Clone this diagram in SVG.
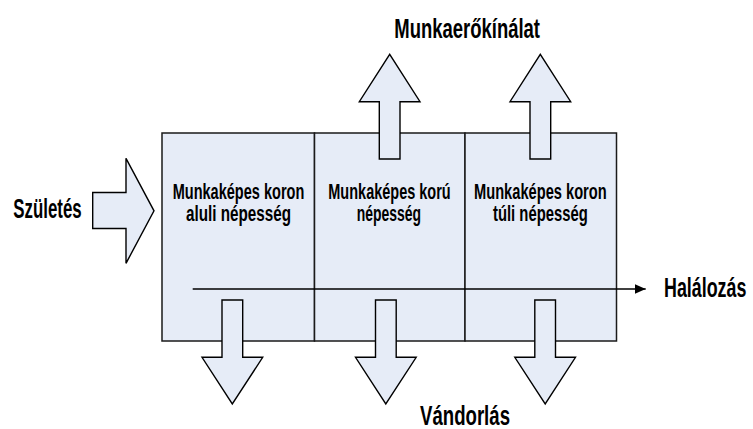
<svg xmlns="http://www.w3.org/2000/svg" width="753" height="429" viewBox="0 0 753 429">
  <style>
    .cell { fill: #E6ECF7; stroke: #1a1a1a; stroke-width: 1.5; }
    .flow { fill: #E6ECF7; stroke: #000; stroke-width: 1.4; stroke-linejoin: miter; }
    .lbl { font-family: "Liberation Sans", Arial, sans-serif; font-weight: bold; fill: #000; }
    .big { font-size: 27px; }
    .small { font-size: 22px; }
    .line { stroke: #000; stroke-width: 1.6; fill: none; }
  </style>
  <defs>
    <marker id="head" markerUnits="userSpaceOnUse" markerWidth="12" markerHeight="10" refX="10.7" refY="4.7" orient="auto">
      <polygon points="0,0 10.7,4.7 0,9.4" fill="#000"/>
    </marker>
  </defs>

  <!-- population cells -->
  <g id="cell-below">
    <rect class="cell" x="162" y="133" width="152.5" height="208"/>
    <text class="lbl small" x="172.7" y="199.3" textLength="131.6" lengthAdjust="spacingAndGlyphs">Munkaképes koron</text>
    <text class="lbl small" x="186" y="221.3" textLength="105" lengthAdjust="spacingAndGlyphs">aluli népesség</text>
  </g>
  <g id="cell-working">
    <rect class="cell" x="314.5" y="133" width="150.5" height="208"/>
    <text class="lbl small" x="328.3" y="199.3" textLength="122.4" lengthAdjust="spacingAndGlyphs">Munkaképes korú</text>
    <text class="lbl small" x="356.7" y="221.3" textLength="64.3" lengthAdjust="spacingAndGlyphs">népesség</text>
  </g>
  <g id="cell-above">
    <rect class="cell" x="465" y="133" width="151.5" height="208"/>
    <text class="lbl small" x="474" y="199.3" textLength="132.7" lengthAdjust="spacingAndGlyphs">Munkaképes koron</text>
    <text class="lbl small" x="493" y="221.3" textLength="94.7" lengthAdjust="spacingAndGlyphs">túli népesség</text>
  </g>

  <!-- flows -->
  <g id="connectors">
    <!-- births in -->
    <polygon class="flow" points="92.7,192.5 126,192.5 126,158.3 154,210.8 126,263.3 126,228.5 92.7,228.5"/>
    <!-- labour supply out -->
    <polygon class="flow" points="379.3,159 379.3,101.7 359.3,101.7 389.7,54.3 420,101.7 400,101.7 400,159"/>
    <polygon class="flow" points="530,159 530,101.7 510,101.7 540.3,54.3 570.7,101.7 550.7,101.7 550.7,159"/>
    <!-- migration out -->
    <polygon class="flow" points="222,300 242.7,300 242.7,357.3 262.7,357.3 232.3,404 202,357.3 222,357.3"/>
    <polygon class="flow" points="375.5,300 396.2,300 396.2,357.3 416.2,357.3 385.8,404 355.5,357.3 375.5,357.3"/>
    <polygon class="flow" points="534.8,300 555.5,300 555.5,357.3 575.5,357.3 545.2,404 514.8,357.3 534.8,357.3"/>
    <!-- deaths -->
    <line class="line" x1="192.7" y1="289" x2="645.7" y2="289" marker-end="url(#head)"/>
  </g>

  <!-- flow labels -->
  <g id="label-supply">
    <text class="lbl big" x="394.3" y="38.3" textLength="145.7" lengthAdjust="spacingAndGlyphs">Munkaerőkínálat</text>
  </g>
  <g id="label-births">
    <text class="lbl big" x="13.3" y="218.3" textLength="68.4" lengthAdjust="spacingAndGlyphs">Születés</text>
  </g>
  <g id="label-deaths">
    <text class="lbl big" x="664" y="296.7" textLength="82.4" lengthAdjust="spacingAndGlyphs">Halálozás</text>
  </g>
  <g id="label-migration">
    <text class="lbl big" x="420" y="424.5" textLength="90" lengthAdjust="spacingAndGlyphs">Vándorlás</text>
  </g>
</svg>
